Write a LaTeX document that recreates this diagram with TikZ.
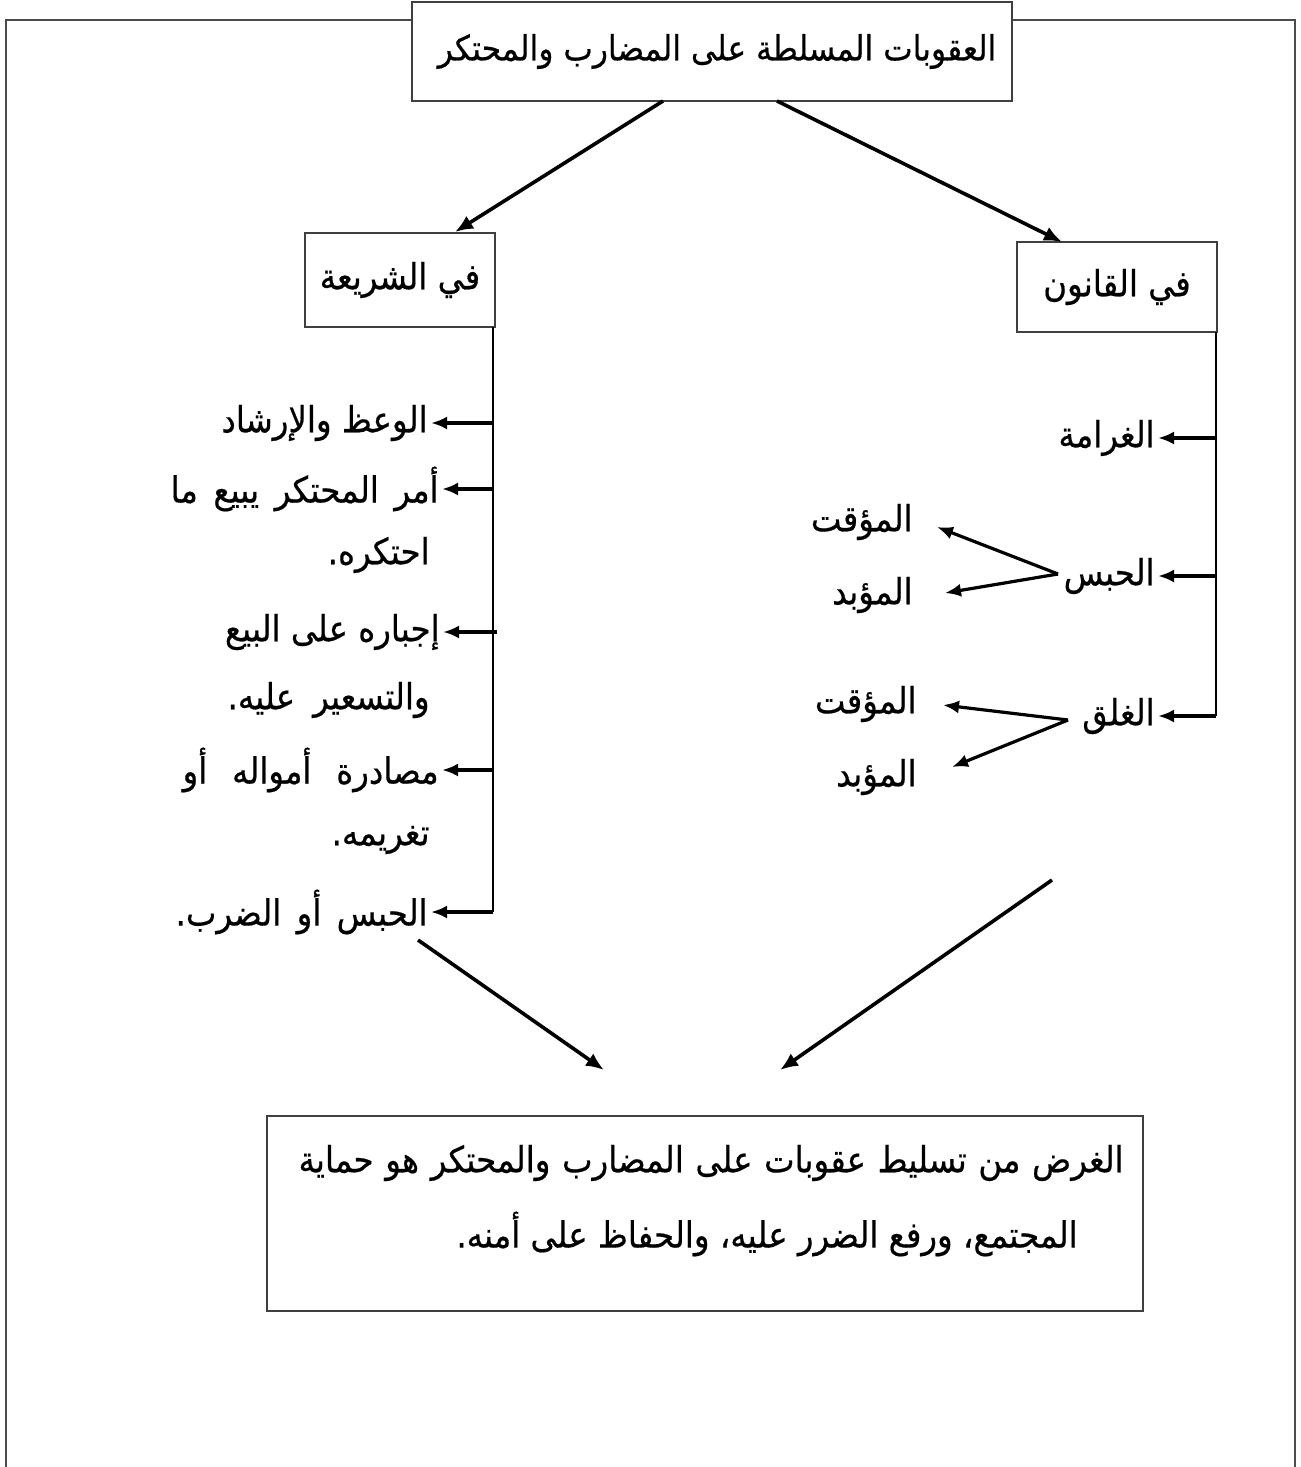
\documentclass[tikz,border=0pt]{standalone}
\usepackage{fontspec}
\newfontfamily\arabicfont[Script=Arabic,FakeStretch=0.9,FakeBold=0.5]{DejaVu Sans}
\TeXXeTstate=1
\usetikzlibrary{arrows.meta}
\begin{document}
\begin{tikzpicture}[x=0.5pt,y=-0.5pt,
  box/.style={draw=black!75, line width=0.8pt, fill=white, inner sep=0pt},
  ar/.style={font=\arabicfont\fontsize{18}{21}\selectfont, inner sep=1.5pt},
  conn/.style={line width=1.8pt, -{Latex[length=9pt,width=7.5pt]}},
  tick/.style={line width=1.6pt, -{Latex[length=8pt,width=6.5pt]}},
  trunk/.style={line width=1.3pt},
  frame/.style={draw=black!70, line width=1pt}]
\useasboundingbox (0,0) rectangle (1301,1467);
\draw[frame] (6,1467) -- (6,20) -- (1295,20) -- (1295,1467);

% boxes
\node[box, ar, font=\arabicfont\fontsize{17.4}{21}\selectfont, minimum width=300pt, minimum height=49.5pt] (top) at (712,51.5)
  {\hspace{5pt}\beginR العقوبات المسلطة على المضارب والمحتكر\endR};
\node[box, ar, minimum width=95pt, minimum height=47pt] (shar) at (400,280)
  {\beginR في الشريعة\endR};
\node[box, ar, minimum width=100pt, minimum height=45pt] (qan) at (1117,287)
  {\beginR في القانون\endR};
\node[box, minimum width=438pt, minimum height=97.5pt] (goal) at (705,1213.5) {};
\node[ar, anchor=east] (g1) at (1127,1163)
  {\makebox[412.5pt][s]{\beginR الغرض من تسليط عقوبات على المضارب والمحتكر هو حماية\endR}};
\node[ar] (g2) at (767,1234)
  {\beginR المجتمع، ورفع الضرر عليه، والحفاظ على أمنه.\endR};

% top arrows
\coordinate (tA) at (663,101);
\coordinate (tB) at (777,101);
\coordinate (sA) at (455,232);
\coordinate (qA) at (1062,242);
\draw[conn] (tA) -- (sA);
\draw[conn] (tB) -- (qA);

% left list
\coordinate (Ltop) at (493,327);
\coordinate (Lbot) at (493,912);
\draw[trunk] (Ltop) -- (Lbot);
\node[ar, anchor=east] (l1) at (431,423) {\beginR الوعظ والإرشاد\endR};
\node[ar, anchor=east] (l2) at (442,489) {\makebox[134pt][s]{\beginR أمر المحتكر يبيع ما\endR}};
\node[ar, anchor=east] (l3) at (433,555) {\beginR احتكره.\endR};
\node[ar, anchor=east] (l4) at (443,632) {\beginR إجباره على البيع\endR};
\node[ar, anchor=east] (l5) at (433,700) {\makebox[101pt][s]{\beginR والتسعير عليه.\endR}};
\node[ar, anchor=east] (l6) at (442,770) {\makebox[128pt][s]{\beginR مصادرة أمواله أو\endR}};
\node[ar, anchor=east] (l7) at (433,840) {\beginR تغريمه.\endR};
\node[ar, anchor=east] (l8) at (431,912) {\makebox[126pt][s]{\beginR الحبس أو الضرب.\endR}};
\coordinate (b1) at (493,423);
\coordinate (b2) at (493,489);
\coordinate (b4) at (497,632);
\coordinate (b6) at (493,770);
\coordinate (b8) at (493,912);
\draw[tick] (b1) -- (l1.east);
\draw[tick] (b2) -- (l2.east);
\draw[tick] (b4) -- (l4.east);
\draw[tick] (b6) -- (l6.east);
\draw[tick] (b8) -- (l8.east);

% right list
\coordinate (Rtop) at (1216,332);
\coordinate (Rbot) at (1216,716);
\draw[trunk] (Rtop) -- (Rbot);
\node[ar, anchor=east] (r1) at (1158,438) {\beginR الغرامة\endR};
\node[ar, anchor=east] (r2) at (1158,576) {\beginR الحبس\endR};
\node[ar, anchor=east] (r3) at (1158,716) {\beginR الغلق\endR};
\coordinate (c1) at (1216,438);
\coordinate (c2) at (1216,576);
\coordinate (c3) at (1216,716);
\draw[tick] (c1) -- (r1.east);
\draw[tick] (c2) -- (r2.east);
\draw[tick] (c3) -- (r3.east);

\node[ar, anchor=east] (h1) at (916,522) {\beginR المؤقت\endR};
\node[ar, anchor=east] (h2) at (916,595) {\beginR المؤبد\endR};
\node[ar, anchor=east] (k1) at (920,704) {\beginR المؤقت\endR};
\node[ar, anchor=east] (k2) at (920,777) {\beginR المؤبد\endR};
\coordinate (hv) at (1058,574);
\coordinate (ht1) at (937,527);
\coordinate (ht2) at (945,593);
\coordinate (kv) at (1068,720);
\coordinate (kt1) at (943,705);
\coordinate (kt2) at (952,767);
\draw[tick] (hv) -- (ht1);
\draw[tick] (hv) -- (ht2);
\draw[tick] (kv) -- (kt1);
\draw[tick] (kv) -- (kt2);

% bottom arrows
\coordinate (dA) at (418,940);
\coordinate (dB) at (1052,880);
\coordinate (gA) at (604,1070);
\coordinate (gB) at (780,1070);
\draw[conn] (dA) -- (gA);
\draw[conn] (dB) -- (gB);
\end{tikzpicture}
\end{document}
